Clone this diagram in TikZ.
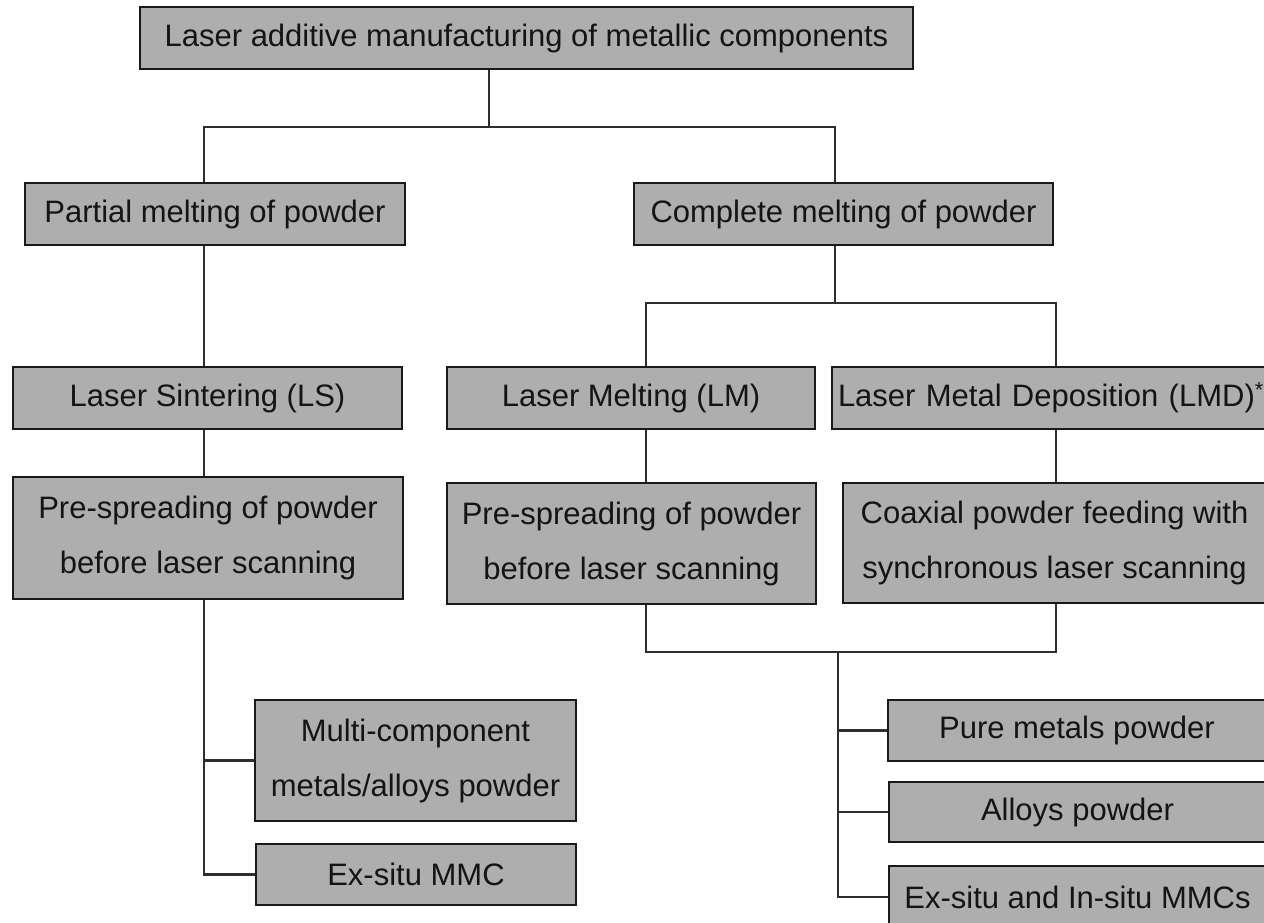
\documentclass[tikz,border=0pt]{standalone}
\usepackage{fontspec}
\setmainfont{Liberation Sans}
\begin{document}
\begin{tikzpicture}[x=1pt,y=-1pt,
  box/.style={draw=black!90, line width=2.8pt, fill=boxgray, inner sep=0pt,
    font=\fontsize{31}{55}\selectfont, align=center, text=black!92},
  conn/.style={draw=black!82, line width=2.3pt}]
\definecolor{boxgray}{RGB}{174,174,174}
\path[use as bounding box] (0,0) rectangle (1264,922);
\clip (0,0) rectangle (1264,922);
\fill[white] (0,0) rectangle (1264,922);

% boxes
\node[box, minimum width=773pt, minimum height=62pt] (top) at (526.5,38) {Laser additive manufacturing of metallic components};
\node[box, minimum width=380pt, minimum height=62pt] (partial) at (215,214) {Partial melting of powder};
\node[box, minimum width=419pt, minimum height=62pt] (complete) at (843.5,214) {Complete melting of powder};
\node[box, minimum width=389pt, minimum height=62pt] (ls) at (207.5,398) {Laser Sintering (LS)};
\node[box, minimum width=368pt, minimum height=62pt] (lm) at (631,398) {Laser Melting (LM)};
\node[box, minimum height=62pt, text width=436pt, inner xsep=6pt, align=left] (lmd) at (1056,398) {Laser Metal Deposition (LMD)\textsuperscript{*}};
\node[box, minimum width=390pt, minimum height=122pt] (lspre) at (208,538) {Pre-spreading of powder\\before laser scanning};
\node[box, minimum width=369pt, minimum height=121pt] (lmpre) at (631.5,543.5) {Pre-spreading of powder\\before laser scanning};
\node[box, minimum width=423pt, minimum height=120pt] (coax) at (1054.5,543) {Coaxial powder feeding with\\synchronous laser scanning};
\node[box, minimum width=321pt, minimum height=121pt] (multi) at (415.5,760.5) {Multi-component\\metals/alloys powder};
\node[box, minimum width=320pt, minimum height=61pt] (exmmc) at (416,874.5) {Ex-situ MMC};
\node[box, minimum width=378pt, minimum height=61pt] (pure) at (1077,730.5) {Pure metals powder};
\node[box, minimum width=377pt, minimum height=60pt] (alloys) at (1077.5,812) {Alloys powder};
\node[box, minimum width=377pt, minimum height=62pt] (exin) at (1077.5,897) {Ex-situ and In-situ MMCs};

% junction coordinates
\coordinate (j1) at (489,127);
\coordinate (xl) at (204,0);
\coordinate (xr) at (835,0);
\coordinate (j2) at (835,303);
\coordinate (xm) at (646,0);
\coordinate (xd) at (1056,0);
\coordinate (j3) at (838,652);

% connectors
\draw[conn] (top.south -| j1) -- (j1);
\draw[conn] (partial.north -| xl) |- (j1) -| (complete.north -| xr);
\draw[conn] (partial.south -| xl) -- (ls.north -| xl);
\draw[conn] (ls.south -| xl) -- (lspre.north -| xl);
\draw[conn] (lspre.south -| xl) |- (exmmc.west);
\draw[conn] (multi.west) -- (multi.west -| xl);
\draw[conn] (complete.south -| xr) -- (j2);
\draw[conn] (lm.north -| xm) |- (j2) -| (lmd.north -| xd);
\draw[conn] (lm.south -| xm) -- (lmpre.north -| xm);
\draw[conn] (lmd.south -| xd) -- (coax.north -| xd);
\draw[conn] (lmpre.south -| xm) |- (j3) -| (coax.south -| xd);
\draw[conn] (j3) |- (exin.west);
\draw[conn] (pure.west) -- (pure.west -| j3);
\draw[conn] (alloys.west) -- (alloys.west -| j3);
\end{tikzpicture}
\end{document}
